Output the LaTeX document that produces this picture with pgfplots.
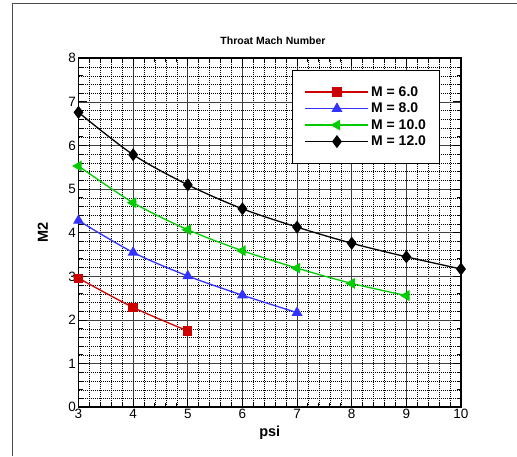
\documentclass[border=0pt]{standalone}
\usepackage{pgfplots}
\pgfplotsset{compat=1.18}
\usepackage{fontspec}
\setmainfont{Liberation Sans}
\definecolor{mred}{RGB}{204,0,0}
\definecolor{mblue}{RGB}{51,51,255}
\definecolor{mgreen}{RGB}{0,204,0}
\begin{document}
\begin{tikzpicture}[x=1pt,y=1pt]
\useasboundingbox (0,0) rectangle (517,456);
\draw[line width=1pt, black!70] (12.3,0) -- (12.3,452.7) -- (517,452.7);
\begin{axis}[at={(78.5pt,48.7pt)}, anchor=south west, scale only axis,
  width=382.5pt, height=349pt,
  xmin=3, xmax=10, ymin=0, ymax=8,
  xtick={3,...,10}, ytick={0,...,8}, minor tick num=4,
  grid=both,
  major grid style={black!75, line width=0.8pt},
  minor grid style={black, line width=0.5pt, dash pattern=on 1pt off 1pt},
  axis line style={line width=1.8pt},
  tick pos=both, xticklabel pos=left, yticklabel pos=left, tick align=inside,
  major tick length=8pt, minor tick length=4pt,
  tick style={black, line width=1pt},
  /pgf/number format/assume math mode=true,
  ticklabel style={font=\fontsize{13.5}{15}\selectfont},
  yticklabel style={xshift=1pt},
  xticklabel style={yshift=1.5pt},
  title={Throat Mach Number},
  title style={font=\fontsize{10.5}{12}\selectfont\bfseries, at={(0.5085,1)}, anchor=center, yshift=12pt},
  xlabel={psi}, ylabel={M2},
  label style={font=\fontsize{14.5}{17}\selectfont\bfseries},
  xlabel style={at={(0.5,0)}, anchor=center, yshift=-25.7pt},
  ylabel style={at={(axis description cs:-0.0936,0.5)}, anchor=center},
  every axis plot/.append style={line width=1.3pt, smooth},
  legend style={at={(0.559,0.9665)}, anchor=north west, draw=black, line width=1pt,
    font=\fontsize{14}{16.7}\selectfont\bfseries, inner xsep=12pt, inner ysep=14pt,
    row sep=1.2pt, cells={anchor=west}},
  legend image code/.code={\draw[mark repeat=2, mark phase=2, sharp plot]
    plot coordinates {(0pt,0pt) (31.5pt,0pt) (63pt,0pt)};},
]
\addplot[mred, mark=square*, mark size=4pt] coordinates {(3,2.96) (4,2.29) (5,1.75)};
\addlegendentry{M = 6.0}
\addplot[mblue, mark=triangle*, mark size=5pt] coordinates {(3,4.28) (4,3.55) (5,3.01) (6,2.57) (7,2.17)};
\addlegendentry{M = 8.0}
\addplot[mgreen, mark=triangle*, mark size=5pt, mark options={rotate=90}] coordinates {(3,5.53) (4,4.69) (5,4.07) (6,3.59) (7,3.19) (8,2.84) (9,2.56)};
\addlegendentry{M = 10.0}
\addplot[black, mark=diamond*, mark size=5.5pt] coordinates {(3,6.76) (4,5.79) (5,5.10) (6,4.55) (7,4.13) (8,3.76) (9,3.45) (10,3.17)};
\addlegendentry{M = 12.0}
\end{axis}
\end{tikzpicture}
\end{document}
